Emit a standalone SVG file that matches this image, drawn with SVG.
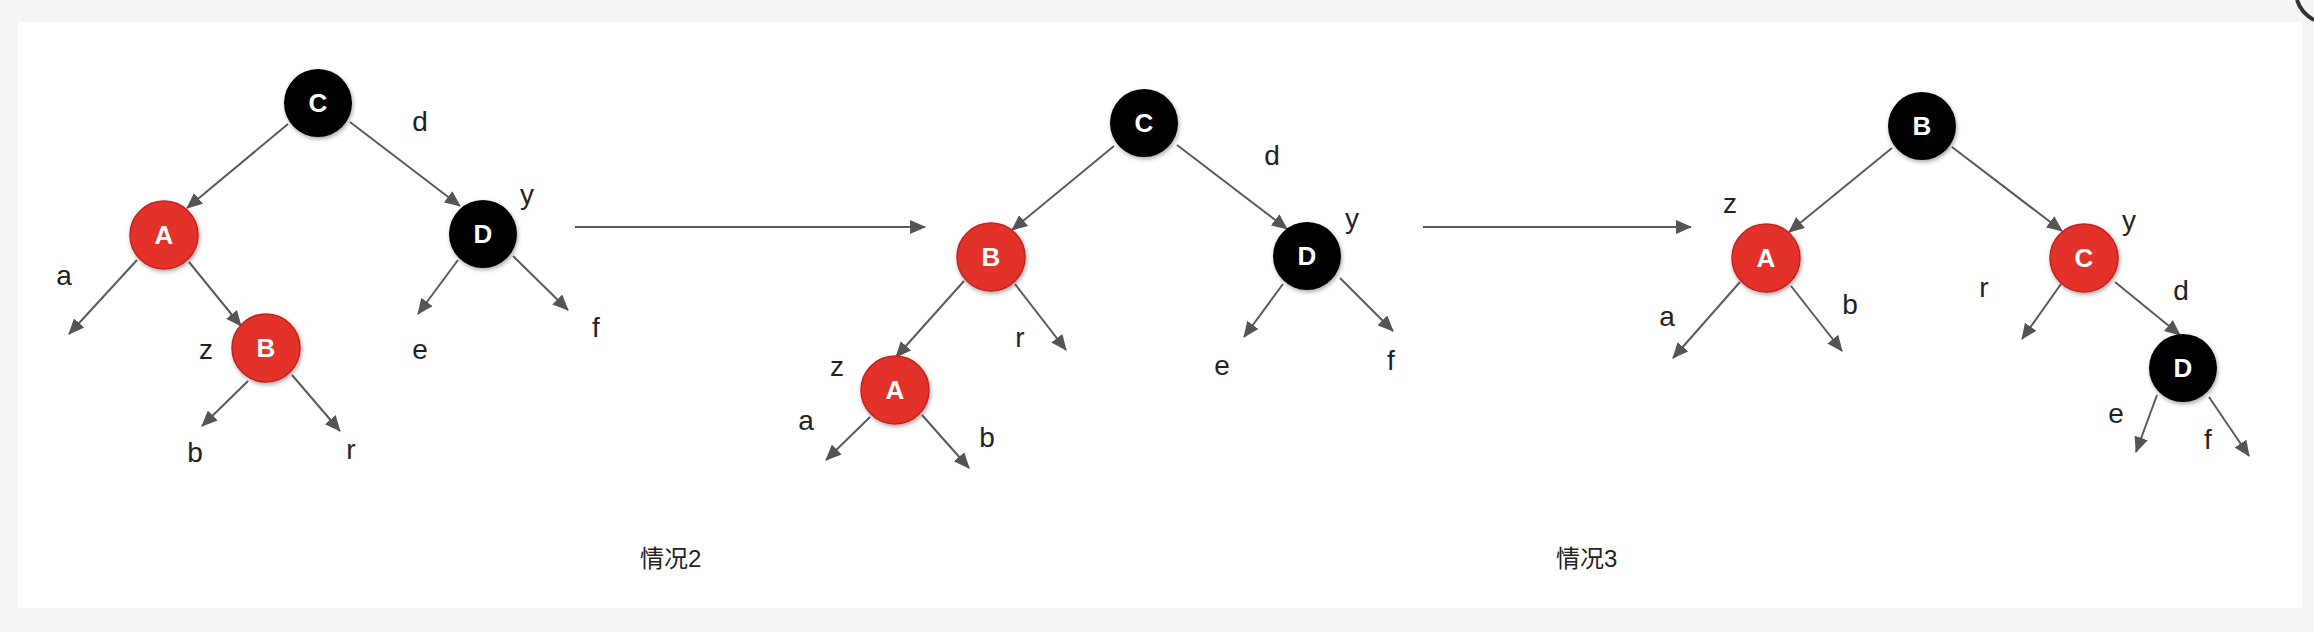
<svg xmlns="http://www.w3.org/2000/svg" width="2314" height="632" viewBox="0 0 2314 632">
<defs>
<marker id="ah" markerUnits="userSpaceOnUse" markerWidth="16" markerHeight="14" refX="15" refY="7" orient="auto">
<path d="M0,0 L16,7 L0,14 z" fill="#555"/>
</marker>
<filter id="sh" x="-30%" y="-30%" width="160%" height="160%">
<feDropShadow dx="1" dy="2" stdDeviation="2" flood-color="#000" flood-opacity="0.35"/>
</filter>
<style>
.e{stroke:#5a5a5a;stroke-width:2;fill:none;marker-end:url(#ah)}
.red{fill:#e2302a;stroke:#c4241e;stroke-width:1.5;filter:url(#sh)}
.blk{fill:#000;filter:url(#sh)}
.nl{font-family:"Liberation Sans",Arial,sans-serif;font-weight:bold;font-size:26px;fill:#fff;text-anchor:middle}
.lb{font-family:"Liberation Sans",Arial,sans-serif;font-size:28px;fill:#222;text-anchor:middle}
.cap{font-family:"Liberation Sans","Noto Sans CJK SC",sans-serif;font-size:24px;fill:#222}
</style>
</defs>
<rect x="0" y="0" width="2314" height="632" fill="#f5f5f5"/>
<rect x="18" y="22" width="2284" height="586" fill="#fff"/>
<path d="M2297,0 Q2301,13 2314,20" stroke="#333" stroke-width="4" fill="none"/>

<g id="connectors">
<!-- panel 1 -->
<line class="e" x1="288" y1="124" x2="187" y2="208"/>
<line class="e" x1="350" y1="122" x2="460" y2="206"/>
<line class="e" x1="137" y1="260" x2="69" y2="334"/>
<line class="e" x1="189" y1="262" x2="241" y2="326"/>
<line class="e" x1="248" y1="381" x2="202" y2="426"/>
<line class="e" x1="292" y1="375" x2="340" y2="431"/>
<line class="e" x1="458" y1="260" x2="418" y2="314"/>
<line class="e" x1="513" y1="256" x2="568" y2="310"/>
<line class="e" x1="575" y1="227" x2="925" y2="227"/>
<!-- panel 2 -->
<line class="e" x1="1114" y1="146" x2="1012" y2="230"/>
<line class="e" x1="1177" y1="145" x2="1287" y2="229"/>
<line class="e" x1="964" y1="281" x2="896" y2="357"/>
<line class="e" x1="1015" y1="284" x2="1066" y2="350"/>
<line class="e" x1="870" y1="417" x2="826" y2="460"/>
<line class="e" x1="922" y1="415" x2="969" y2="468"/>
<line class="e" x1="1283" y1="284" x2="1244" y2="337"/>
<line class="e" x1="1340" y1="278" x2="1393" y2="331"/>
<line class="e" x1="1423" y1="227" x2="1691" y2="227"/>
<!-- panel 3 -->
<line class="e" x1="1892" y1="148" x2="1789" y2="232"/>
<line class="e" x1="1952" y1="147" x2="2062" y2="231"/>
<line class="e" x1="1740" y1="282" x2="1673" y2="358"/>
<line class="e" x1="1791" y1="286" x2="1842" y2="351"/>
<line class="e" x1="2061" y1="284" x2="2022" y2="339"/>
<line class="e" x1="2115" y1="282" x2="2180" y2="335"/>
<line class="e" x1="2157" y1="395" x2="2136" y2="452"/>
<line class="e" x1="2209" y1="397" x2="2249" y2="456"/>
</g>

<!-- panel 1 nodes -->
<g id="p1-C"><circle class="blk" cx="318" cy="103" r="34"/><text class="nl" x="318" y="112">C</text></g>
<g id="p1-A"><circle class="red" cx="164" cy="235" r="34"/><text class="nl" x="164" y="244">A</text></g>
<g id="p1-B"><circle class="red" cx="266" cy="348" r="34"/><text class="nl" x="266" y="357">B</text></g>
<g id="p1-D"><circle class="blk" cx="483" cy="234" r="34"/><text class="nl" x="483" y="243">D</text></g>
<g id="p1-labels">
<text class="lb" x="420" y="131">d</text>
<text class="lb" x="527" y="204">y</text>
<text class="lb" x="64" y="285">a</text>
<text class="lb" x="206" y="359">z</text>
<text class="lb" x="420" y="359">e</text>
<text class="lb" x="596" y="337">f</text>
<text class="lb" x="195" y="462">b</text>
<text class="lb" x="351" y="459">r</text>
</g>
<text class="cap" x="640" y="567">情况2</text>

<!-- panel 2 nodes -->
<g id="p2-C"><circle class="blk" cx="1144" cy="123" r="34"/><text class="nl" x="1144" y="132">C</text></g>
<g id="p2-B"><circle class="red" cx="991" cy="257" r="34"/><text class="nl" x="991" y="266">B</text></g>
<g id="p2-D"><circle class="blk" cx="1307" cy="256" r="34"/><text class="nl" x="1307" y="265">D</text></g>
<g id="p2-A"><circle class="red" cx="895" cy="390" r="34"/><text class="nl" x="895" y="399">A</text></g>
<g id="p2-labels">
<text class="lb" x="1272" y="165">d</text>
<text class="lb" x="1352" y="228">y</text>
<text class="lb" x="1020" y="347">r</text>
<text class="lb" x="837" y="376">z</text>
<text class="lb" x="806" y="430">a</text>
<text class="lb" x="987" y="447">b</text>
<text class="lb" x="1222" y="375">e</text>
<text class="lb" x="1391" y="370">f</text>
</g>

<!-- panel 3 nodes -->
<g id="p3-B"><circle class="blk" cx="1922" cy="126" r="34"/><text class="nl" x="1922" y="135">B</text></g>
<g id="p3-A"><circle class="red" cx="1766" cy="258" r="34"/><text class="nl" x="1766" y="267">A</text></g>
<g id="p3-C"><circle class="red" cx="2084" cy="258" r="34"/><text class="nl" x="2084" y="267">C</text></g>
<g id="p3-D"><circle class="blk" cx="2183" cy="368" r="34"/><text class="nl" x="2183" y="377">D</text></g>
<g id="p3-labels">
<text class="lb" x="1730" y="213">z</text>
<text class="lb" x="2129" y="230">y</text>
<text class="lb" x="1667" y="326">a</text>
<text class="lb" x="1850" y="314">b</text>
<text class="lb" x="1984" y="297">r</text>
<text class="lb" x="2181" y="300">d</text>
<text class="lb" x="2116" y="423">e</text>
<text class="lb" x="2208" y="449">f</text>
</g>
<text class="cap" x="1556" y="567">情况3</text>
</svg>
